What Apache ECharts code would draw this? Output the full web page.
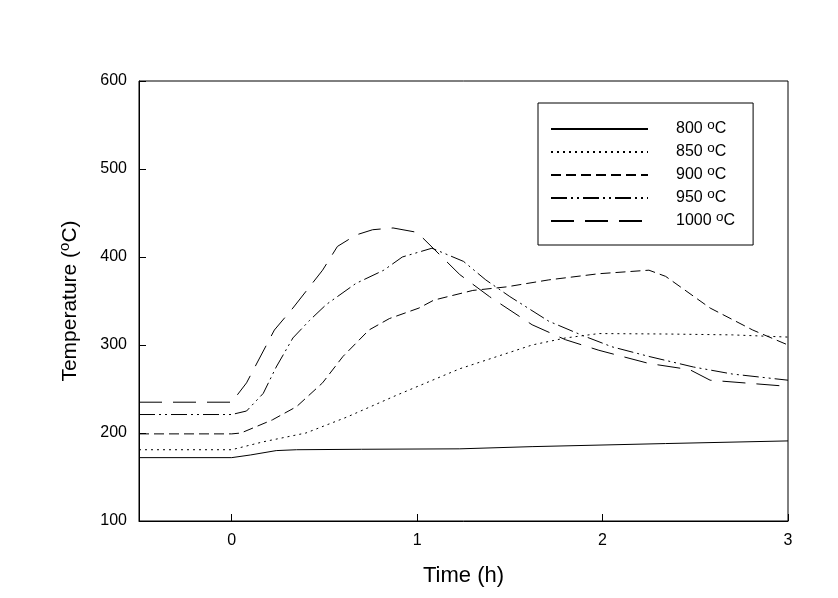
<!DOCTYPE html>
<html>
<head>
<meta charset="utf-8">
<script src="https://cdn.jsdelivr.net/npm/echarts@6/dist/echarts.min.js"></script>
<style>html,body{margin:0;padding:0;background:#fff}#c{width:838px;height:598px}</style>
</head>
<body>
<div id="c"></div>
<script>
const seriesNames = ['800 °C', '850 °C', '900 °C', '950 °C', '1000 °C'];
const xTickValues = [0, 1, 2, 3];

const time800 = [-0.5, 0, 0.1, 0.24, 0.35, 0.7, 1.23, 1.62, 2.34, 3.0];
const temp800 = [172, 172, 175, 180, 181, 181.5, 182, 184.5, 188, 191];

const time850 = [-0.5, 0, 0.17, 0.4, 0.62, 0.89, 1.23, 1.62, 1.8, 1.98, 2.34, 2.7, 3.0];
const temp850 = [181, 181, 190, 200, 218, 243, 273, 300, 308, 313, 312.5, 311.5, 309];

const time900 = [-0.5, 0, 0.05, 0.22, 0.35, 0.49, 0.6, 0.74, 0.85, 1.01, 1.09, 1.3, 1.48, 1.71, 1.98, 2.25, 2.34, 2.58, 2.81, 3.0];
const temp900 = [199, 199, 200, 215, 230, 257, 287, 317, 330, 342, 351, 362, 366, 374, 381, 385, 378, 342, 317, 300];

const time950 = [-0.5, 0, 0.08, 0.17, 0.24, 0.33, 0.42, 0.51, 0.67, 0.82, 0.92, 1.08, 1.25, 1.37, 1.5, 1.71, 1.89, 2.05, 2.25, 2.49, 2.7, 3.0];
const temp950 = [221, 221, 225, 245, 275, 308, 328, 346, 370, 385, 400, 410, 395, 374, 355, 327, 311, 298, 287, 275, 267, 260];

const time1000 = [-0.5, 0, 0.08, 0.23, 0.33, 0.49, 0.57, 0.67, 0.76, 0.87, 1.0, 1.23, 1.39, 1.62, 1.8, 1.98, 2.25, 2.47, 2.58, 3.0];
const temp1000 = [235, 235, 257, 317, 342, 385, 412, 425, 431, 433, 428, 380, 355, 323, 306, 294, 279, 272, 260, 253];

const times = [time800, time850, time900, time950, time1000];
const temps = [temp800, temp850, temp900, temp950, temp1000];
const dashTypes = ['solid', [2, 4], [10, 5], [16, 4, 2, 4, 2, 4], [23, 11]];

const FONT = 'Liberation Sans, Arial, sans-serif';

const chart = echarts.init(document.getElementById('c'), null, { renderer: 'canvas' });
chart.setOption({
  animation: false,
  backgroundColor: '#fff',
  grid: { left: 139, right: 50, top: 81, bottom: 77, show: true, borderColor: '#000', borderWidth: 1, backgroundColor: 'transparent' },
  legend: {
    orient: 'vertical', left: 538, top: 103,
    padding: [15, 18, 13, 12],
    itemWidth: 97, itemHeight: 14, itemGap: 1,
    borderColor: '#000', borderWidth: 1,
    itemStyle: { opacity: 0 },
    formatter: n => n.replace('°', '{s|o}'),
    textStyle: {
      fontSize: 16, fontFamily: FONT, color: '#000', lineHeight: 22, padding: [0, 0, 0, 23],
      rich: { s: { fontSize: 13.5, lineHeight: 13, verticalAlign: 'top', fontFamily: FONT, color: '#000' } }
    },
    data: seriesNames
  },
  xAxis: {
    type: 'value', min: -0.5, max: 3,
    name: 'Time (h)', nameLocation: 'middle', nameGap: 44,
    nameTextStyle: { fontSize: 22, fontFamily: FONT, color: '#000' },
    axisLine: { onZero: false, lineStyle: { color: '#000', width: 1 } },
    axisTick: { inside: true, length: 7, customValues: xTickValues, lineStyle: { color: '#000' } },
    axisLabel: { customValues: xTickValues, fontSize: 16, fontFamily: FONT, color: '#000', margin: 12 },
    splitLine: { show: false }
  },
  yAxis: {
    type: 'value', min: 100, max: 600, interval: 100,
    name: 'Temperature ({s|o}C)', nameLocation: 'middle', nameGap: 56,
    nameTextStyle: {
      fontSize: 21, fontFamily: FONT, color: '#000', lineHeight: 26,
      rich: { s: { fontSize: 15, lineHeight: 15, verticalAlign: 'top', fontFamily: FONT, color: '#000' } }
    },
    axisLine: { onZero: false, lineStyle: { color: '#000', width: 1 } },
    axisTick: { inside: true, length: 7, lineStyle: { color: '#000' } },
    axisLabel: { fontSize: 16, fontFamily: FONT, color: '#000', margin: 12 },
    splitLine: { show: false }
  },
  series: seriesNames.map((name, i) => ({
    name, type: 'line', symbol: 'none', showSymbol: false,
    color: '#000',
    lineStyle: { color: '#000', width: 1, type: dashTypes[i] },
    data: times[i].map((t, j) => [t, temps[i][j]])
  }))
});
</script>
</body>
</html>
